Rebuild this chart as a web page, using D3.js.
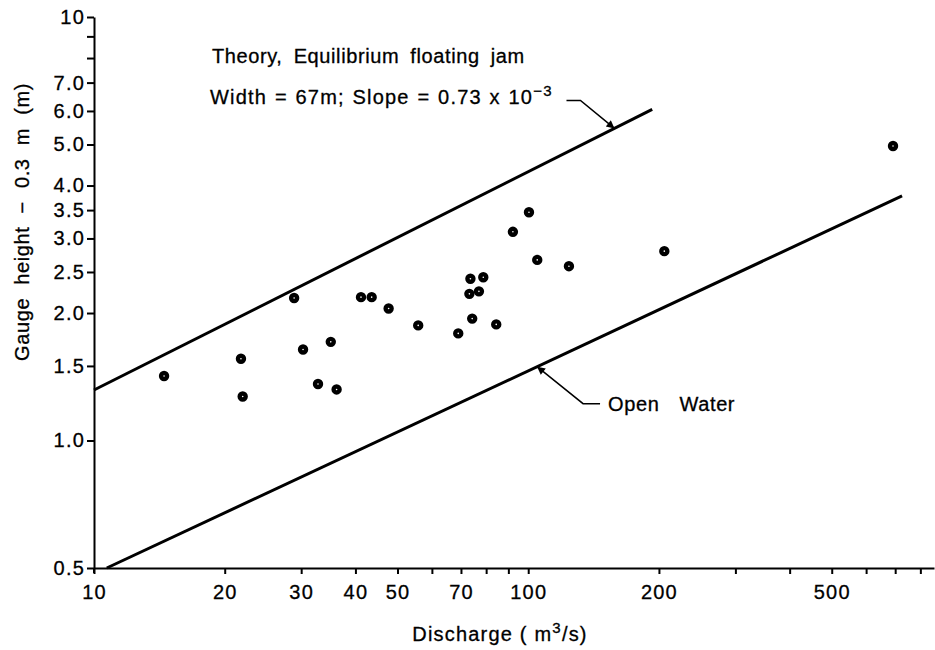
<!DOCTYPE html>
<html lang="en">
<head>
  <meta charset="UTF-8">
  <title>Gauge height vs discharge</title>
  <script src="https://d3js.org/d3.v7.min.js"></script>
  <style>
    body {
      margin: 0;
      padding: 0;
      background: #fff;
      font-family: "Liberation Sans", Arial, Helvetica, sans-serif;
    }
    .axis path, .axis line {
      stroke: #000;
      stroke-width: 2px;
    }
    .axis text {
      font-family: "Liberation Sans", Arial, sans-serif;
      font-size: 20px;
      letter-spacing: 1.2px;
      fill: #000;
      stroke: #000;
      stroke-width: 0.3px;
    }
    .note {
      font-size: 20px;
      letter-spacing: 0.6px;
      fill: #000;
      stroke: #000;
      stroke-width: 0.3px;
    }
  </style>
</head>
<body>
  <div id="chart"></div>

  <script>
    const discharge = [14.5, 21.8, 22.0, 28.9, 30.3, 32.8, 35.1, 36.2, 41.2, 43.6, 47.7, 55.8, 69.0,
                       73.6, 73.2, 74.3, 77.0, 78.8, 84.4, 92.2, 100.4, 104.9, 124.1, 205.8, 692];
    const gauge = [1.42, 1.56, 1.27, 2.17, 1.64, 1.36, 1.71, 1.32, 2.18, 2.18, 2.05, 1.87, 1.79,
                   2.41, 2.22, 1.94, 2.25, 2.43, 1.88, 3.11, 3.46, 2.67, 2.58, 2.80, 4.96];

    // theory (equilibrium floating jam) and open water rating lines
    const theoryQ = [10, 193];
    const theoryH = [1.316, 6.05];
    const openQ = [10.7, 726];
    const openH = [0.5, 3.78];

    // axis ticks
    const xTicks = [10, 20, 30, 40, 50, 60, 70, 80, 90, 100, 200, 300, 400, 500, 600, 700, 800];
    const xLabels = [10, 20, 30, 40, 50, 70, 100, 200, 500];
    const yTicks = [0.5, 1.0, 1.5, 2.0, 2.5, 3.0, 3.5, 4.0, 5.0, 6.0, 7.0, 8, 9, 10];
    const yLabels = ["0.5", "1.0", "1.5", "2.0", "2.5", "3.0", "3.5", "4.0", "5.0", "6.0", "7.0", "", "", "10"];

    const width = 935;
    const height = 650;

    const x = d3.scaleLog().domain([10, 860]).range([94, 934]);
    const y = d3.scaleLog().domain([0.5, 10]).range([568, 17]);

    const svg = d3.select("#chart")
      .append("svg")
      .attr("width", width)
      .attr("height", height);

    svg.append("defs").append("marker")
      .attr("id", "arrow")
      .attr("viewBox", "0 0 10 10")
      .attr("refX", 10)
      .attr("refY", 5)
      .attr("markerWidth", 12)
      .attr("markerHeight", 8)
      .attr("markerUnits", "userSpaceOnUse")
      .attr("orient", "auto")
      .append("path")
      .attr("d", "M0,0 L10,5 L0,10 Z")
      .attr("fill", "#000");

    // axes
    svg.append("g")
      .attr("class", "axis")
      .attr("transform", `translate(0,${y(0.5)})`)
      .call(d3.axisBottom(x)
        .tickValues(xTicks)
        .tickFormat(d => xLabels.includes(d) ? d : "")
        .tickSize(6)
        .tickSizeOuter(0)
        .tickPadding(11));

    svg.append("g")
      .attr("class", "axis")
      .attr("transform", `translate(${x(10)},0)`)
      .call(d3.axisLeft(y)
        .tickValues(yTicks)
        .tickFormat((d, i) => yLabels[i])
        .tickSize(7)
        .tickSizeOuter(0)
        .tickPadding(2));

    // small overshoot of the y axis below the origin
    svg.append("line")
      .attr("x1", x(10)).attr("x2", x(10))
      .attr("y1", y(0.5)).attr("y2", y(0.5) + 5)
      .attr("stroke", "#000").attr("stroke-width", 2);

    // rating lines
    const line = d3.line().x(d => x(d[0])).y(d => y(d[1]));

    svg.append("path")
      .datum(theoryQ.map((q, i) => [q, theoryH[i]]))
      .attr("d", line)
      .attr("fill", "none")
      .attr("stroke", "#000")
      .attr("stroke-width", 3);

    svg.append("path")
      .datum(openQ.map((q, i) => [q, openH[i]]))
      .attr("d", line)
      .attr("fill", "none")
      .attr("stroke", "#000")
      .attr("stroke-width", 3);

    // points
    svg.selectAll(".pt")
      .data(discharge.map((q, i) => [q, gauge[i]]))
      .enter()
      .append("circle")
      .attr("class", "pt")
      .attr("cx", d => x(d[0]))
      .attr("cy", d => y(d[1]))
      .attr("r", 3)
      .attr("fill", "#fff")
      .attr("stroke", "#000")
      .attr("stroke-width", 4.4);

    // point on a log-log line at discharge q
    function onLine(qs, hs, q) {
      const t = (Math.log(q) - Math.log(qs[0])) / (Math.log(qs[1]) - Math.log(qs[0]));
      const h = Math.exp(Math.log(hs[0]) + t * (Math.log(hs[1]) - Math.log(hs[0])));
      return [x(q), y(h)];
    }

    // theory annotation
    svg.append("text")
      .attr("class", "note")
      .attr("x", 212)
      .attr("y", 63)
      .style("word-spacing", "5px")
      .text("Theory, Equilibrium floating jam");

    const widthNote = svg.append("text")
      .attr("class", "note")
      .attr("x", 210)
      .attr("y", 104)
      .style("letter-spacing", "1.2px")
      .style("word-spacing", "1px");
    widthNote.append("tspan").text("Width = 67m;  Slope = 0.73 x 10");
    widthNote.append("tspan")
      .attr("dy", -8)
      .style("font-size", "15px")
      .text("\u22123");

    const tip1 = onLine(theoryQ, theoryH, 158);
    svg.append("path")
      .attr("d", `M${tip1[0] - 48},${tip1[1] - 28} L${tip1[0] - 34},${tip1[1] - 28} L${tip1[0]},${tip1[1]}`)
      .attr("fill", "none")
      .attr("stroke", "#000")
      .attr("stroke-width", 1.5)
      .attr("marker-end", "url(#arrow)");

    // open water annotation
    const tip2 = onLine(openQ, openH, 104.8);
    svg.append("path")
      .attr("d", `M${tip2[0] + 63},${tip2[1] + 37} L${tip2[0] + 46},${tip2[1] + 37} L${tip2[0]},${tip2[1]}`)
      .attr("fill", "none")
      .attr("stroke", "#000")
      .attr("stroke-width", 1.5)
      .attr("marker-end", "url(#arrow)");

    svg.append("text")
      .attr("class", "note")
      .attr("x", tip2[0] + 71)
      .attr("y", tip2[1] + 44)
      .style("word-spacing", "14px")
      .text("Open Water");

    // axis titles
    const xTitle = svg.append("text")
      .attr("class", "note")
      .attr("x", 500)
      .attr("y", 641)
      .attr("text-anchor", "middle")
      .style("letter-spacing", "1.2px");
    xTitle.append("tspan").text("Discharge  ( m");
    xTitle.append("tspan").attr("dy", -8).style("font-size", "15px").text("3");
    xTitle.append("tspan").attr("dy", 8).text("/s)");

    svg.append("text")
      .attr("class", "note")
      .attr("transform", "translate(29,222) rotate(-90)")
      .attr("text-anchor", "middle")
      .style("word-spacing", "7px")
      .text("Gauge height \u2212 0.3 m   (m)");
  </script>
</body>
</html>
